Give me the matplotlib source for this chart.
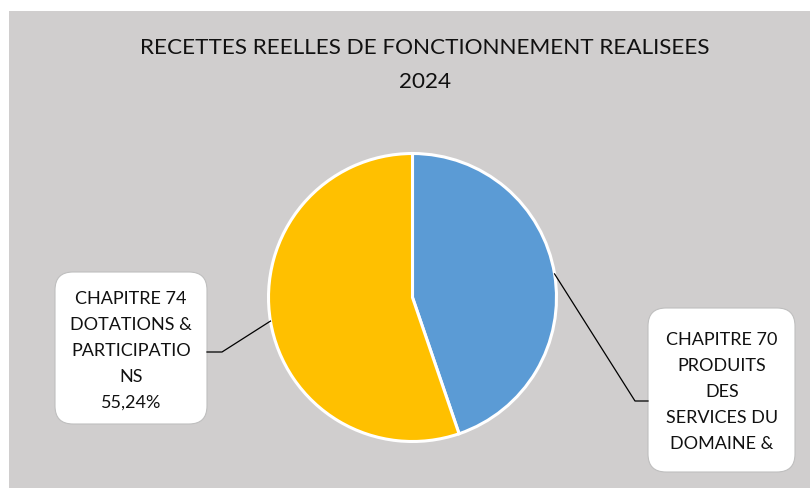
import numpy as np
import matplotlib
matplotlib.use("Agg")
import matplotlib.pyplot as plt
from matplotlib.patches import Rectangle, FancyBboxPatch

# Data
categories = ["CHAPITRE 70 PRODUITS DES SERVICES DU DOMAINE &",
              "CHAPITRE 74 DOTATIONS & PARTICIPATIONS"]
shares = [44.76, 55.24]
colors = ["#5B9BD5", "#FFC000"]
title_lines = ["RECETTES REELLES DE FONCTIONNEMENT REALISEES", "2024"]
label_lines = [
    ["CHAPITRE 70", "PRODUITS", "DES", "SERVICES DU", "DOMAINE &"],
    ["CHAPITRE 74", "DOTATIONS &", "PARTICIPATIO", "NS",
     "{:.2f}%".format(shares[1]).replace(".", ",")],
]

W, H = 810, 489
plt.rcParams["font.family"] = ["Lato", "DejaVu Sans"]
fig = plt.figure(figsize=(W / 100, H / 100), dpi=100)
fig.patch.set_facecolor("white")

# Overlay axes in pixel coordinates (origin at top-left)
ov = fig.add_axes([0, 0, 1, 1], zorder=0)
ov.set_xlim(0, W)
ov.set_ylim(H, 0)
ov.axis("off")
ov.add_patch(Rectangle((9, 12), W - 9, H - 12, facecolor="#D0CECE",
                       edgecolor="none"))

# Pie
cx, cy, r = 412.5, 298.5, 144
pax = fig.add_axes([(cx - r) / W, (H - cy - r) / H, 2 * r / W, 2 * r / H],
                   zorder=1)
wedges, _ = pax.pie(shares, colors=colors, startangle=90, counterclock=False,
                    wedgeprops=dict(edgecolor="white", linewidth=2.2))
pax.set_xlim(-1.0, 1.0)
pax.set_ylim(-1.0, 1.0)
pax.set_aspect("equal")
pax.axis("off")

# Title
tkw = dict(ha="center", va="center", fontsize=16.2, color="#111111")
ov.text(425, 48, title_lines[0], **tkw)
ov.text(425, 82, title_lines[1], **tkw)

# Label boxes: (left, top, right, bottom, text centre x, first line y, side)
boxes = [
    (648, 309, 795, 473, 722, 340, "right"),
    (55, 273, 207, 425, 131, 299, "left"),
]
overlay = fig.add_axes([0, 0, 1, 1], zorder=2)
overlay.set_xlim(0, W)
overlay.set_ylim(H, 0)
overlay.axis("off")

for w, lines, (x0, y0, x1, y1, tx, ty, side) in zip(wedges, label_lines, boxes):
    overlay.add_patch(FancyBboxPatch((x0 + 16, y0 + 16), x1 - x0 - 32,
                                     y1 - y0 - 32,
                                     boxstyle="round,pad=16,rounding_size=18",
                                     facecolor="white", edgecolor="#BFBFBF",
                                     linewidth=0.8))
    for i, line in enumerate(lines):
        overlay.text(tx, ty + i * 26, line, ha="center", va="center",
                     fontsize=13, color="#111111")
    # leader line from the wedge edge (mid-angle) to the box
    ang = np.deg2rad((w.theta1 + w.theta2) / 2)
    px, py = pax.transData.transform((np.cos(ang), np.sin(ang)))
    px, py = overlay.transData.inverted().transform((px, py))
    if side == "right":
        ey = 402
        overlay.plot([px, 635, x0], [py, ey, ey], color="black", lw=0.9)
    else:
        ey = 353
        overlay.plot([px, 222, x1], [py, ey, ey], color="black", lw=0.9)

fig.savefig("out.png", dpi=100, facecolor=fig.get_facecolor())
